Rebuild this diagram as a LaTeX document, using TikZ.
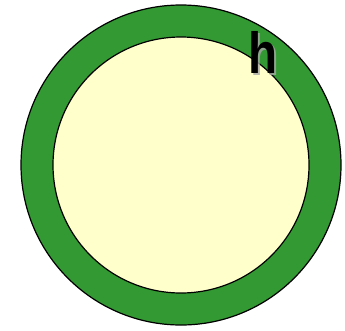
\documentclass[tikz,border=0pt]{standalone}
\usepackage{fontspec}
\setmainfont{Liberation Sans}
\definecolor{ringgreen}{HTML}{339933}
\definecolor{paleyellow}{HTML}{FFFFCC}
\begin{document}
\begin{tikzpicture}[x=1pt,y=-1pt,
  ring/.style={draw=black,line width=1.2pt},
  hlabel/.style={inner sep=0pt,font=\fontsize{58}{58}\selectfont\bfseries}]
\useasboundingbox (0,0) rectangle (345,330);
\node[ring,circle,fill=ringgreen,minimum size=320pt,inner sep=0pt] (outer) at (181,165) {};
\node[ring,circle,fill=paleyellow,minimum size=256pt,inner sep=0pt] (inner) at (181,165) {};
\node[hlabel,text=black!35,opacity=0.8] (hshadow) at (265.4,54.5) {\scalebox{0.82}[1]{h}};
\node[hlabel,text=black] (h) at (263.4,52.5) {\scalebox{0.82}[1]{h}};
\end{tikzpicture}
\end{document}
